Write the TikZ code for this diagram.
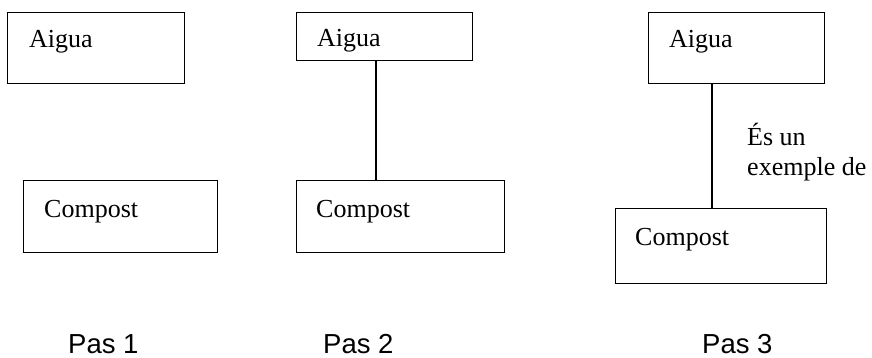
\documentclass[tikz,border=0pt]{standalone}
\usepackage{fontspec}
\setmainfont{Liberation Serif}
\newfontfamily\pasfont{Liberation Sans}
\usetikzlibrary{calc}
\begin{document}
\begin{tikzpicture}[x=1pt,y=-1pt,
  box/.style={draw=black,line width=1.3pt,inner sep=0pt,anchor=north west},
  txt/.style={inner sep=0pt,anchor=base west,font=\fontsize{26}{30}\selectfont},
  pas/.style={inner sep=0pt,anchor=base west,font=\pasfont\fontsize{27.5}{32}\selectfont},
  link/.style={line width=1.3pt}]
\useasboundingbox (0,0) rectangle (872,358);
% Pas 1
\node[box,minimum width=177pt,minimum height=71pt] (a1) at (7,12) {};
\node[box,minimum width=194pt,minimum height=72pt] (c1) at (23,180) {};
\node[txt] (a1t) at (29,48) {Aigua};
\node[txt] (c1t) at (44,217) {Compost};
\node[pas] (p1) at (68,353) {Pas 1};
% Pas 2
\node[box,minimum width=176pt,minimum height=48pt] (a2) at (296,12) {};
\node[box,minimum width=208pt,minimum height=72pt] (c2) at (296,180) {};
\node[txt] (a2t) at (317,47) {Aigua};
\node[txt] (c2t) at (316,217) {Compost};
\node[pas] (p2) at (323,353) {Pas 2};
\draw[link] ($(a2.south west)+(80,0)$) -- ($(c2.north west)+(80,0)$);
% Pas 3
\node[box,minimum width=176pt,minimum height=71pt] (a3) at (648,12) {};
\node[box,minimum width=211pt,minimum height=75pt] (c3) at (615,208) {};
\node[txt] (a3t) at (669,48) {Aigua};
\node[txt] (c3t) at (635,245) {Compost};
\node[txt] (l1) at (747,146) {És un};
\node[txt] (l2) at (747,176) {exemple de};
\node[pas] (p3) at (702,353) {Pas 3};
\draw[link] ($(a3.south west)+(64,0)$) -- ($(c3.north west)+(97,0)$);
\end{tikzpicture}
\end{document}
